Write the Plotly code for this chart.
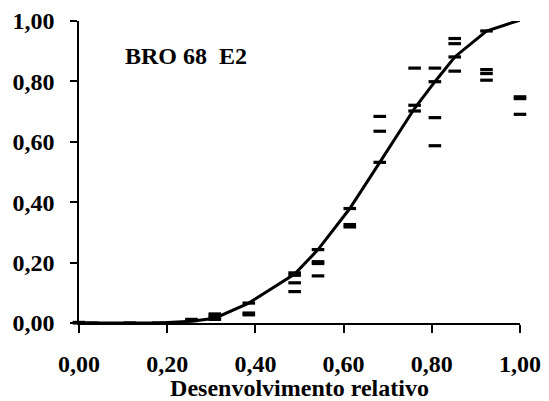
import plotly.graph_objects as go

# Observed points (relative development, proportion)
obs_x = [0.0, 0.0, 0.03, 0.115, 0.18,
         0.255, 0.255,
         0.308, 0.308, 0.308, 0.308,
         0.385, 0.385, 0.385,
         0.489, 0.489, 0.489, 0.489,
         0.542, 0.542, 0.542, 0.542,
         0.614, 0.614, 0.614,
         0.682, 0.682, 0.682,
         0.761, 0.761, 0.761, 0.761,
         0.807, 0.807, 0.807, 0.807,
         0.852, 0.852, 0.852, 0.852,
         0.924, 0.924, 0.924, 0.924,
         1.0, 1.0, 1.0, 1.0]
obs_y = [0.0, 0.002, 0.0, 0.0, 0.0,
         0.008, 0.012,
         0.012, 0.018, 0.024, 0.030,
         0.066, 0.027, 0.033,
         0.158, 0.166, 0.133, 0.104,
         0.243, 0.197, 0.203, 0.156,
         0.379, 0.318, 0.326,
         0.532, 0.635, 0.684,
         0.702, 0.721, 0.844, 1.005,
         0.799, 0.844, 0.680, 0.587,
         0.881, 0.834, 0.925, 0.942,
         0.967, 0.804, 0.826, 0.839,
         1.004, 0.743, 0.749, 0.691]

# Fitted curve
fit_x = [0.0, 0.03, 0.115, 0.18, 0.255, 0.308, 0.385, 0.489, 0.542,
         0.614, 0.682, 0.761, 0.807, 0.852, 0.924, 1.0]
fit_y = [0.0, 0.0, 0.0, 0.0, 0.006, 0.016, 0.066, 0.162, 0.243,
         0.379, 0.532, 0.711, 0.799, 0.881, 0.967, 1.003]

tick_vals = [0, 0.2, 0.4, 0.6, 0.8, 1.0]
tick_text = ["0,00", "0,20", "0,40", "0,60", "0,80", "1,00"]

font_family = "Liberation Serif"
fs = 24

fig = go.Figure()
fig.add_trace(go.Scatter(
    x=fit_x, y=fit_y, mode="lines",
    line=dict(color="black", width=3),
    cliponaxis=False, showlegend=False, hoverinfo="skip"))
fig.add_trace(go.Scatter(
    x=obs_x, y=obs_y, mode="markers",
    marker=dict(symbol="line-ew", size=9, color="black",
                line=dict(color="black", width=3.2)),
    cliponaxis=False, showlegend=False))

fig.add_annotation(x=0.242, y=0.885, xref="x", yref="y",
                   text="<b>BRO 68  E2</b>", showarrow=False,
                   font=dict(family=font_family, size=fs, color="black"))

axis_common = dict(
    range=[0, 1], tickvals=tick_vals,
    ticktext=["<b>%s</b>" % t for t in tick_text],
    showgrid=False, zeroline=False, showline=True,
    linecolor="black", linewidth=1.5, ticks="outside",
    tickcolor="black", tickwidth=1.5, automargin=False,
    tickfont=dict(family=font_family, size=fs, color="black"),
)

fig.update_xaxes(**axis_common, ticklen=8, ticklabelstandoff=10,
                 title=dict(text="<b>Desenvolvimento relativo</b>",
                            font=dict(family=font_family, size=fs, color="black"),
                            standoff=4))
fig.update_yaxes(**axis_common, ticklen=7, ticklabelstandoff=11)

fig.update_layout(
    width=549, height=401,
    margin=dict(l=79, r=29, t=21, b=78),
    paper_bgcolor="white", plot_bgcolor="white",
    font=dict(family=font_family, color="black"),
)

fig.write_html("out.html")
